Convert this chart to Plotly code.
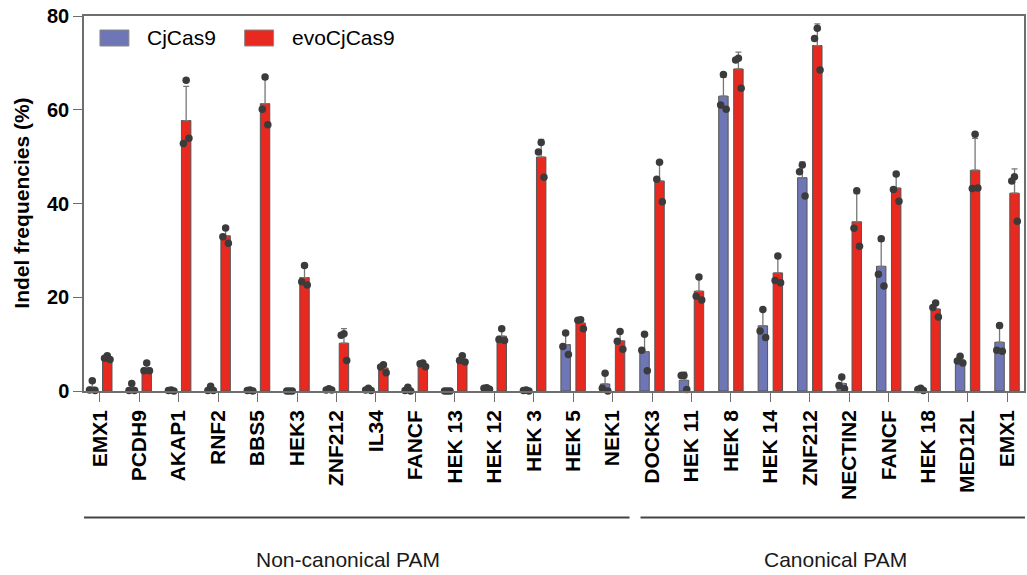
import plotly.graph_objects as go

categories = ["EMX1", "PCDH9", "AKAP1", "RNF2", "BBS5", "HEK3", "ZNF212", "IL34", "FANCF",
              "HEK 13", "HEK 12", "HEK 3", "HEK 5", "NEK1",
              "DOCK3", "HEK 11", "HEK 8", "HEK 14", "ZNF212", "NECTIN2", "FANCF",
              "HEK 18", "MED12L", "EMX1"]

cj_mean = [0.8, 0.6, 0.1, 0.4, 0.1, 0.0, 0.3, 0.3, 0.3, 0.0, 0.5, 0.1, 9.9, 1.5,
           8.4, 2.3, 62.9, 13.9, 45.5, 1.6, 26.6, 0.4, 6.6, 10.4]
cj_sd = [1.1, 0.8, 0.1, 0.5, 0.1, 0.0, 0.2, 0.3, 0.4, 0.0, 0.2, 0.1, 2.3, 2.0,
         3.9, 1.7, 4.0, 3.1, 3.4, 1.3, 5.3, 0.3, 0.7, 3.0]
cj_reps = [[2.2, 0.2, 0.1], [1.6, 0.1, 0.1], [0.2, 0.1, 0.0], [1.0, 0.1, 0.1], [0.2, 0.1, 0.0],
           [0.0, 0.0, 0.0], [0.5, 0.2, 0.2], [0.6, 0.2, 0.1], [0.8, 0.1, 0.0], [0.0, 0.0, 0.0],
           [0.7, 0.6, 0.4], [0.2, 0.1, 0.0], [12.4, 9.5, 7.8], [3.8, 0.6, 0.0],
           [12.1, 8.7, 4.3], [3.3, 3.3, 0.3], [67.5, 61.0, 60.1], [17.4, 12.8, 11.4],
           [48.2, 46.8, 41.6], [3.0, 1.2, 0.5], [32.5, 24.9, 22.4], [0.6, 0.3, 0.1],
           [7.4, 6.4, 6.0], [14.0, 8.7, 8.5]]

evo_mean = [7.0, 4.9, 57.7, 33.1, 61.3, 24.2, 10.2, 4.9, 5.7, 6.7, 11.7, 49.9, 14.5, 10.7,
            44.8, 21.3, 68.7, 25.2, 73.7, 36.1, 43.3, 17.5, 47.1, 42.2]
evo_sd = [0.4, 1.0, 7.3, 1.7, 5.2, 2.2, 3.1, 0.9, 0.4, 0.7, 1.4, 3.8, 1.1, 1.9,
          4.2, 2.6, 3.6, 3.2, 4.6, 6.0, 2.9, 1.5, 6.8, 5.2]
evo_reps = [[7.5, 7.0, 6.7], [6.0, 4.3, 4.3], [66.3, 52.8, 53.9], [34.8, 32.9, 31.5],
            [67.0, 60.1, 56.8], [26.8, 23.3, 22.6], [12.2, 11.9, 6.5], [5.6, 5.1, 3.9],
            [6.0, 5.8, 5.2], [7.5, 6.5, 6.2], [13.3, 11.0, 10.8], [53.0, 51.0, 45.6],
            [15.2, 15.1, 13.3], [12.7, 10.6, 8.9], [48.8, 45.2, 40.4], [24.3, 20.2, 19.4],
            [71.0, 70.6, 64.6], [28.8, 23.6, 23.1], [77.4, 75.2, 68.5], [42.7, 34.7, 30.9],
            [46.3, 43.0, 40.5], [18.8, 17.8, 15.8], [54.8, 43.2, 43.3], [45.7, 44.8, 36.2]]

series_names = ["CjCas9", "evoCjCas9"]
y_ticks = [0, 20, 40, 60, 80]
group_labels = ["Non-canonical PAM", "Canonical PAM"]

BLUE = "#6f76b6"
RED = "#e8291f"
DOT = "#3b3b3b"
AXIS = "#6e6e6e"
FONT = "Liberation Sans, Arial, sans-serif"

xs = list(range(len(categories)))
BARGAP = 0.24
half = (1 - BARGAP) / 4  # center offset of each bar within group
jitter = [0.0, -0.07, 0.07]

fig = go.Figure()
for name, mean, sd, color in [(series_names[0], cj_mean, cj_sd, BLUE),
                              (series_names[1], evo_mean, evo_sd, RED)]:
    fig.add_trace(go.Bar(
        x=xs, y=mean, name=name, showlegend=False,
        marker=dict(color=color, line=dict(color="#555555", width=1)),
        error_y=dict(type="data", symmetric=False, array=sd,
                     arrayminus=[0] * len(sd), color="#777777", thickness=1.3, width=3),
    ))

for reps, sign in [(cj_reps, -1), (evo_reps, 1)]:
    px, py = [], []
    for i, r in enumerate(reps):
        for j, v in enumerate(r):
            px.append(xs[i] + sign * half + jitter[j])
            py.append(v)
    fig.add_trace(go.Scatter(x=px, y=py, mode="markers", showlegend=False,
                             marker=dict(color=DOT, size=7.5), cliponaxis=False))

# layout geometry
L, R, T, B = 84, 1, 16, 184
W, H = 1027, 575
pw, ph = W - L - R, H - T - B

def px2x(p):
    return (p - L) / pw

def px2y(p):
    return (H - B - p) / ph

fig.update_layout(
    width=W, height=H,
    margin=dict(l=L, r=R, t=T, b=B),
    plot_bgcolor="white", paper_bgcolor="white",
    barmode="group", bargap=BARGAP, bargroupgap=0.37,
    font=dict(family=FONT, color="black"),
    xaxis=dict(range=[-0.4, 23.43], tickmode="array", tickvals=xs, ticktext=categories,
               tickangle=-90, tickfont=dict(size=21, weight="bold", family=FONT, color="black"),
               ticks="outside", ticklen=9, tickcolor=AXIS, tickwidth=1.3,
               showline=True, linecolor=AXIS, linewidth=1.5, mirror=True,
               showgrid=False, zeroline=False),
    yaxis=dict(range=[0, 80], tickmode="array", tickvals=y_ticks,
               tickfont=dict(size=20, weight="bold", family=FONT, color="black"),
               ticks="outside", ticklen=9, tickcolor=AXIS, tickwidth=1.3,
               showline=True, linecolor=AXIS, linewidth=1.5, mirror=True,
               showgrid=False, zeroline=False),
)

annotations = [
    dict(text="Indel frequencies (%)", textangle=-90, x=px2x(21), y=0.5,
         xref="paper", yref="paper", xanchor="center", yanchor="middle", showarrow=False,
         font=dict(size=21, weight="bold", family=FONT, color="black")),
]
shapes = []

# legend (manual)
legend_items = [(series_names[0], BLUE, 100, 145), (series_names[1], RED, 245, 290)]
for name, color, sx, tx in legend_items:
    shapes.append(dict(type="rect", xref="paper", yref="paper",
                       x0=px2x(sx), x1=px2x(sx + 29), y0=px2y(46), y1=px2y(30),
                       fillcolor=color, line=dict(color="#888888", width=1)))
    annotations.append(dict(text=name, x=px2x(tx), y=px2y(38), xref="paper", yref="paper",
                            xanchor="left", yanchor="middle", showarrow=False,
                            font=dict(size=21, family=FONT, color="black")))

# group bracket lines and labels
line_specs = [(84, 630.7, 349), (641.7, 1027, 836.7)]
for (x0, x1, cx), label in zip(line_specs, group_labels):
    shapes.append(dict(type="line", xref="paper", yref="paper",
                       x0=px2x(x0), x1=px2x(x1), y0=px2y(517.5), y1=px2y(517.5),
                       line=dict(color="#444444", width=2)))
    annotations.append(dict(text=label, x=px2x(cx), y=px2y(559.5), xref="paper", yref="paper",
                            xanchor="center", yanchor="middle", showarrow=False,
                            font=dict(size=21, family=FONT, color="#1a1a1a")))

fig.update_layout(annotations=annotations, shapes=shapes)
fig.write_html("out.html")
